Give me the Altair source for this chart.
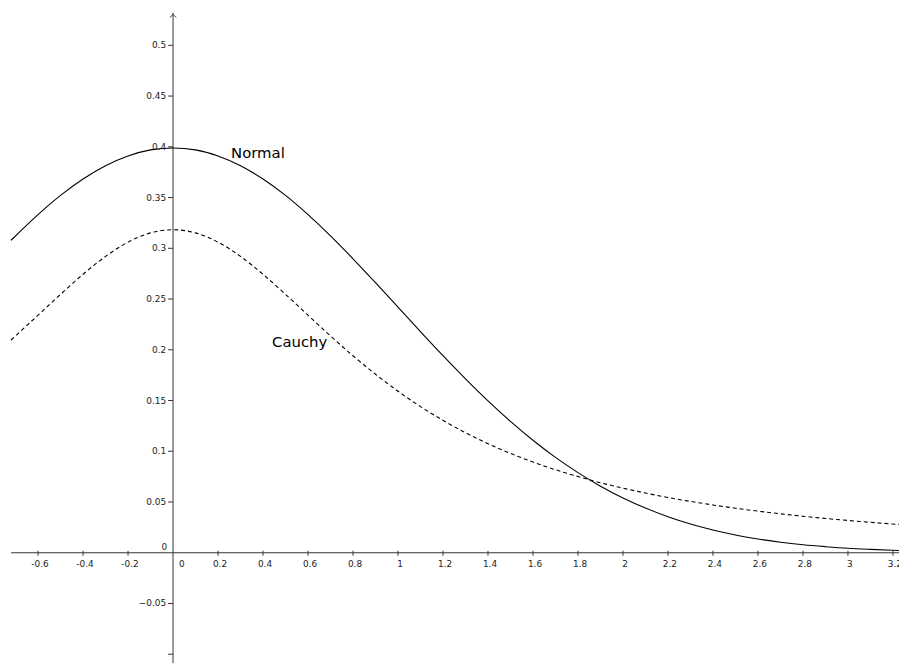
import altair as alt
import pandas as pd

# ---- data ----
xs = [-0.72, -0.6, -0.5, -0.4, -0.3, -0.2, -0.1, 0.0, 0.1, 0.2, 0.3, 0.4, 0.5, 0.6, 0.7,
      0.8, 0.9, 1.0, 1.1, 1.2, 1.3, 1.4, 1.5, 1.6, 1.7, 1.8, 1.9, 2.0, 2.1, 2.2, 2.3,
      2.4, 2.5, 2.6, 2.7, 2.8, 2.9, 3.0, 3.1, 3.2, 3.24]
normal = [0.3079, 0.3332, 0.3521, 0.3683, 0.3814, 0.3910, 0.3970, 0.3989, 0.3970, 0.3910,
          0.3814, 0.3683, 0.3521, 0.3332, 0.3123, 0.2897, 0.2661, 0.2420, 0.2179, 0.1942,
          0.1714, 0.1497, 0.1295, 0.1109, 0.0940, 0.0790, 0.0656, 0.0540, 0.0440, 0.0355,
          0.0283, 0.0224, 0.0175, 0.0136, 0.0104, 0.0079, 0.0060, 0.0044, 0.0033, 0.0024,
          0.0021]
cauchy = [0.2096, 0.2341, 0.2546, 0.2744, 0.2920, 0.3061, 0.3152, 0.3183, 0.3152, 0.3061,
          0.2920, 0.2744, 0.2546, 0.2341, 0.2136, 0.1941, 0.1759, 0.1592, 0.1440, 0.1305,
          0.1183, 0.1075, 0.0979, 0.0894, 0.0818, 0.0751, 0.0690, 0.0637, 0.0588, 0.0545,
          0.0506, 0.0471, 0.0439, 0.0410, 0.0384, 0.0360, 0.0338, 0.0318, 0.0300, 0.0283,
          0.0277]

x_ticks = [-0.6, -0.4, -0.2, 0.2, 0.4, 0.6, 0.8, 1.0, 1.2, 1.4, 1.6, 1.8, 2.0, 2.2, 2.4,
           2.6, 2.8, 3.0, 3.2]
x_labels = ["-0.6", "-0.4", "-0.2", "0.2", "0.4", "0.6", "0.8", "1", "1.2", "1.4", "1.6",
            "1.8", "2", "2.2", "2.4", "2.6", "2.8", "3", "3.2"]
y_ticks = [0.05, 0.1, 0.15, 0.2, 0.25, 0.3, 0.35, 0.4, 0.45, 0.5, -0.05, -0.1]
y_labels = ["0.05", "0.1", "0.15", "0.2", "0.25", "0.3", "0.35", "0.4", "0.45", "0.5",
            "\u22120.05", ""]

curve_names = ["Normal", "Cauchy"]
curve_label_x = [0.258, 0.44]
curve_label_y = [0.389, 0.203]

XMIN, XMAX = -0.7335, 3.2269
YMIN, YMAX = -0.1087, 0.5339

df_n = pd.DataFrame({"x": xs, "y": normal})
df_c = pd.DataFrame({"x": xs, "y": cauchy})
df_xt = pd.DataFrame({"v": x_ticks, "t": x_labels})
df_yt = pd.DataFrame({"v": y_ticks, "t": y_labels})
df_lab = pd.DataFrame({"name": curve_names, "x": curve_label_x, "y": curve_label_y})
df_one = pd.DataFrame({"k": [0]})

XS = alt.Scale(domain=[XMIN, XMAX], nice=False, zero=False)
YS = alt.Scale(domain=[YMIN, YMAX], nice=False, zero=False)
FONT = "DejaVu Sans"
AX = "#333333"
TXT = "#222222"

def X(f):
    return alt.X(f, type="quantitative", scale=XS, axis=None)

def Y(f):
    return alt.Y(f, type="quantitative", scale=YS, axis=None)

x_axis = alt.Chart(df_one).mark_rule(color=AX, strokeWidth=1).encode(
    x=alt.datum(-0.72, scale=XS, axis=None), x2=alt.datum(XMAX),
    y=alt.datum(0, scale=YS, axis=None))

y_axis = alt.Chart(df_one).mark_rule(color=AX, strokeWidth=1).encode(
    x=alt.datum(0, scale=XS, axis=None),
    y=alt.datum(YMIN, scale=YS, axis=None), y2=alt.datum(0.532))

arrow = alt.Chart(df_one).mark_point(
    shape="M -1 1 L 0 0 L 1 1", filled=False, color=AX, strokeWidth=1, size=40, opacity=1
).encode(x=alt.datum(0, scale=XS, axis=None), y=alt.datum(0.5305, scale=YS, axis=None))

x_tick_marks = alt.Chart(df_xt).mark_rule(color=AX, strokeWidth=1, yOffset=-2, y2Offset=3).encode(
    x=X("v"), y=alt.datum(0, scale=YS, axis=None), y2=alt.datum(0))

y_tick_marks = alt.Chart(df_yt).mark_rule(color=AX, strokeWidth=1, xOffset=-5, x2Offset=0).encode(
    y=Y("v"), y2=alt.Y2("v"), x=alt.datum(0, scale=XS, axis=None), x2=alt.datum(0))

x_text = alt.Chart(df_xt).mark_text(font=FONT, fontSize=9, color=TXT, align="center",
                                   baseline="middle", dy=11, dx=2).encode(
    x=X("v"), y=alt.datum(0, scale=YS, axis=None), text="t:N")

y_text = alt.Chart(df_yt).mark_text(font=FONT, fontSize=9, color=TXT, align="right",
                                   baseline="middle", dx=-7).encode(
    y=Y("v"), x=alt.datum(0, scale=XS, axis=None), text="t:N")

zero_x = alt.Chart(df_one).mark_text(font=FONT, fontSize=9, color=TXT, align="center",
                                    baseline="middle", dx=9, dy=11, text="0").encode(
    x=alt.datum(0, scale=XS, axis=None), y=alt.datum(0, scale=YS, axis=None))
zero_y = alt.Chart(df_one).mark_text(font=FONT, fontSize=9, color=TXT, align="right",
                                    baseline="middle", dx=-6, dy=-6, text="0").encode(
    x=alt.datum(0, scale=XS, axis=None), y=alt.datum(0, scale=YS, axis=None))

line_n = alt.Chart(df_n).mark_line(color="black", strokeWidth=1.1, interpolate="monotone",
                                   clip=True).encode(x=X("x"), y=Y("y"))
line_c = alt.Chart(df_c).mark_line(color="black", strokeWidth=1.1, interpolate="monotone",
                                   strokeDash=[4, 3], clip=True).encode(x=X("x"), y=Y("y"))

labels = alt.Chart(df_lab).mark_text(font=FONT, fontSize=15, color="black", align="left",
                                     baseline="alphabetic").encode(
    x=X("x"), y=Y("y"), text="name:N")

chart = alt.layer(
    x_axis, y_axis, arrow, x_tick_marks, y_tick_marks, x_text, y_text, zero_x, zero_y,
    line_n, line_c, labels
).properties(
    width=899, height=658, autosize=alt.AutoSizeParams(type="none"), padding=0
).configure(background="white", view=alt.ViewConfig(stroke=None))

chart.save("out.html", embed_options={"renderer": "svg", "actions": False})
